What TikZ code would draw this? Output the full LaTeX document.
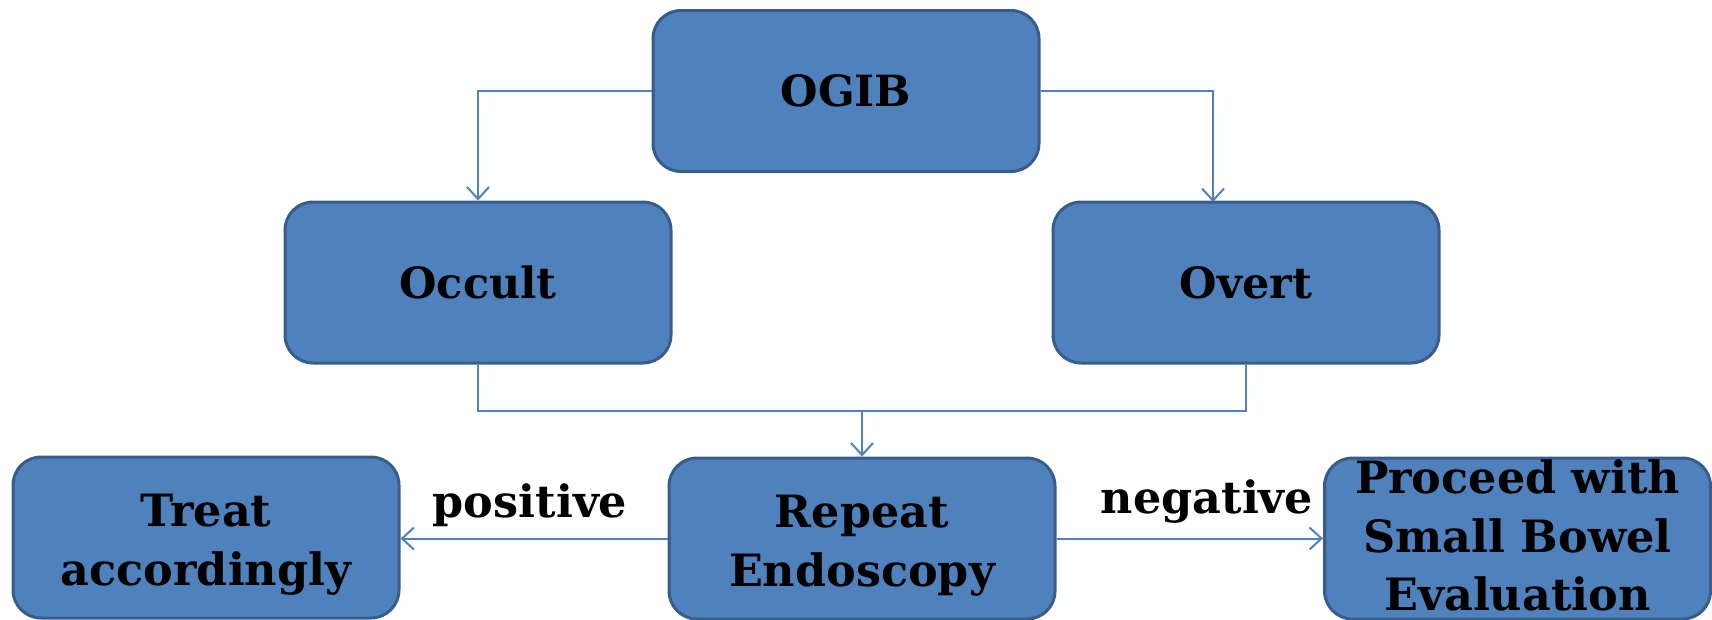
\documentclass[tikz,border=0pt]{standalone}
\usepackage{fontspec}
\setmainfont{DejaVu Serif}
\usetikzlibrary{arrows.meta}
\definecolor{boxfill}{HTML}{4F81BD}
\definecolor{boxedge}{HTML}{385D8A}
\definecolor{linkcol}{HTML}{4F81BD}
\begin{document}
\begin{tikzpicture}[x=1pt,y=-1pt,
  box/.style={draw=boxedge, line width=3pt, fill=boxfill, rounded corners=28pt,
    minimum width=386pt, minimum height=161pt, inner sep=0pt, align=center,
    font=\bfseries\fontsize{44.5}{58.5}\selectfont},
  topbox/.style={box, font=\bfseries\fontsize{43}{58.5}\selectfont},
  link/.style={draw=linkcol, line width=2pt},
  arr/.style={link, -{Straight Barb[length=12pt,width=22pt,line width=2pt]}},
  lbl/.style={font=\bfseries\fontsize{44.5}{58.5}\selectfont, inner sep=0pt, anchor=base}]
\useasboundingbox (0,0) rectangle (1712,619);

\node[topbox] (ogib) at (846,91) {OGIB};
\node[topbox] (occult) at (478,282.5) {Occult};
\node[topbox] (overt) at (1246,282.5) {Overt};
\node[box, text height=105.5pt] (treat) at (206,537.5) {Treat\\accordingly};
\node[box, text height=105.5pt] (rep) at (862,538.5) {Repeat\\Endoscopy};
\node[box, text depth=6pt] (proceed) at (1517.5,538.5) {Proceed with\\Small Bowel\\Evaluation};

\coordinate (overtin) at (1213,202);
\coordinate (merge) at (862,411);

\draw[arr] (ogib.west) -| (occult.north);
\draw[arr] (ogib.east) -| (overtin);
\draw[link] (occult.south) |- (merge) -| (overt.south);
\draw[arr] (merge) -- (rep.north);
\draw[arr] (rep.west) -- (rep.west -| treat.east);
\draw[arr] (rep.east) -- (rep.east -| proceed.west);

\node[lbl] (pos) at (530,517) {positive};
\node[lbl] (neg) at (1207,513) {negative};
\end{tikzpicture}
\end{document}
